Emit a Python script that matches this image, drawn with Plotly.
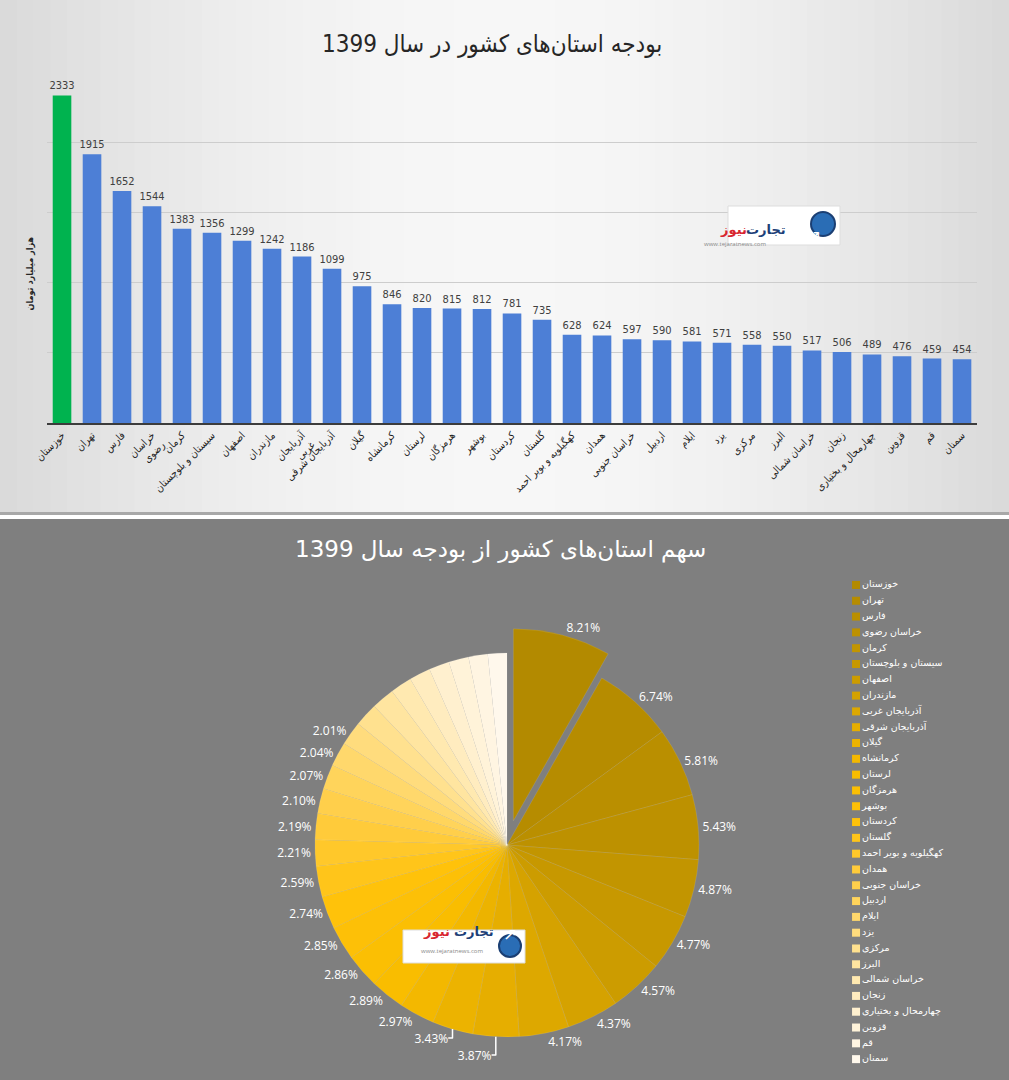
import plotly.graph_objects as go
import numpy as np

# ---------------- data ----------------
provinces = ["خوزستان", "تهران", "فارس", "خراسان رضوی", "کرمان", "سیستان و بلوچستان",
             "اصفهان", "مازندران", "آذربایجان غربی", "آذربایجان شرقی", "گیلان", "کرمانشاه",
             "لرستان", "هرمزگان", "بوشهر", "کردستان", "گلستان", "کهگیلویه و بویر احمد",
             "همدان", "خراسان جنوبی", "اردبیل", "ایلام", "یزد", "مرکزی", "البرز",
             "خراسان شمالی", "زنجان", "چهارمحال و بختیاری", "قزوین", "قم", "سمنان"]
budget = [2333, 1915, 1652, 1544, 1383, 1356, 1299, 1242, 1186, 1099, 975, 846, 820, 815,
          812, 781, 735, 628, 624, 597, 590, 581, 571, 558, 550, 517, 506, 489, 476, 459, 454]
tick_labels = ["خوزستان", "تهران", "فارس", "خراسان<br>رضوی", "کرمان", "سیستان و بلوچستان",
               "اصفهان", "مازندران", "آذربایجان<br>غربی", "آذربایجان شرقی", "گیلان", "کرمانشاه",
               "لرستان", "هرمزگان", "بوشهر", "کردستان", "گلستان", "کهگیلویه و بویر احمد",
               "همدان", "خراسان جنوبی", "اردبیل", "ایلام", "یزد", "مرکزی", "البرز",
               "خراسان شمالی", "زنجان", "چهارمحال و بختیاری", "قزوین", "قم", "سمنان"]
share_labels = ["8.21%", "6.74%", "5.81%", "5.43%", "4.87%", "4.77%", "4.57%", "4.37%",
                "4.17%", "3.87%", "3.43%", "2.97%", "2.89%", "2.86%", "2.85%", "2.74%",
                "2.59%", "2.21%", "2.19%", "2.10%", "2.07%", "2.04%", "2.01%",
                "", "", "", "", "", "", "", ""]

bar_title = "بودجه استان\u200cهای کشور در سال 1399"
pie_title = "سهم استان\u200cهای کشور از بودجه سال 1399"
y_title = "هزار میلیارد تومان"

# ---------------- helpers ----------------
W, H = 1009, 1080
def px(x): return x / W
def py(y): return 1 - y / H

def hex2rgb(h):
    h = h.lstrip('#'); return [int(h[i:i+2], 16) for i in (0, 2, 4)]

stops = [(0.0, '#b38a00'), (0.1, '#bd9100'), (0.2, '#cc9c00'), (0.3, '#e6ae00'),
         (0.4, '#f9bd00'), (0.5, '#ffc20a'), (0.6, '#ffcb3a'), (0.7, '#ffd86c'),
         (0.8, '#ffe5a0'), (0.9, '#fff0cf'), (1.0, '#fff8ec')]
def grad(t):
    for (t0, c0), (t1, c1) in zip(stops[:-1], stops[1:]):
        if t <= t1:
            f = (t - t0) / (t1 - t0) if t1 > t0 else 0
            a, b = hex2rgb(c0), hex2rgb(c1)
            return 'rgb(%d,%d,%d)' % tuple(round(a[k] + (b[k] - a[k]) * f) for k in range(3))
    return stops[-1][1]

n = len(provinces)
pie_colors = [grad(i / (n - 1)) for i in range(n)]
bar_colors = ['#00b34f'] + ['#4d7fd6'] * (n - 1)

fig = go.Figure()

# ---------------- bar chart ----------------
fig.add_trace(go.Bar(
    x=provinces, y=budget, marker_color=bar_colors, marker_line_width=0,
    text=budget, textposition='outside', cliponaxis=False, constraintext='none',
    textfont=dict(size=11, color='#404040', family='DejaVu Sans Condensed'),
    xaxis='x', yaxis='y', showlegend=False, hoverinfo='x+y'))

# ---------------- pie chart ----------------
pull = [0.13] + [0] * (n - 1)
fig.add_trace(go.Pie(
    labels=provinces, values=budget, text=share_labels, textinfo='text',
    textposition='outside', sort=False, direction='clockwise', rotation=0,
    pull=pull, marker=dict(colors=pie_colors, line=dict(color='rgba(255,255,255,0.25)', width=0.4)),
    textfont=dict(size=12, color='white', family='Open Sans'),
    domain=dict(x=[0.2874, 0.7175], y=[0.0167, 0.4185]),
    showlegend=False, automargin=False))

# ---------------- legend built as a category-axis scatter ----------------
fig.add_trace(go.Scatter(
    x=np.zeros(n), y=provinces, mode='markers+text',
    marker=dict(symbol='square', size=8, color=pie_colors),
    text=provinces, textposition='middle right',
    textfont=dict(size=9.5, color='white', family='DejaVu Sans'),
    xaxis='x2', yaxis='y2', showlegend=False, cliponaxis=False, hoverinfo='text'))

# ---------------- background shapes ----------------
shapes = []
nstrip = 60
for i in range(nstrip):
    x0, x1 = i / nstrip, (i + 1) / nstrip
    xc = (x0 + x1) / 2
    v = round(247 - 30 * (abs(xc - 0.5) * 2) ** 1.8)
    shapes.append(dict(type='rect', xref='paper', yref='paper', x0=x0, x1=x1 + 0.001,
                       y0=py(515), y1=1, fillcolor='rgb(%d,%d,%d)' % (v, v, v),
                       line_width=0, layer='below'))
shapes.append(dict(type='rect', xref='paper', yref='paper', x0=0, x1=1, y0=py(516), y1=py(512),
                   fillcolor='#a8a8a8', line_width=0, layer='below'))
shapes.append(dict(type='rect', xref='paper', yref='paper', x0=0, x1=1, y0=py(519), y1=py(515),
                   fillcolor='#ffffff', line_width=0, layer='below'))
shapes.append(dict(type='rect', xref='paper', yref='paper', x0=0, x1=1, y0=0, y1=py(519),
                   fillcolor='#7f7f7f', line_width=0, layer='below'))

def logo(x0, x1, y0, y1, cx, cy, r, tx_blue, tx_red, ty, url_x, url_y, fs):
    sh = [dict(type='rect', xref='paper', yref='paper', x0=px(x0), x1=px(x1), y0=py(y1), y1=py(y0),
               fillcolor='white', line=dict(color='#dddddd', width=1), layer='above'),
          dict(type='circle', xref='paper', yref='paper', x0=px(cx - r), x1=px(cx + r),
               y0=py(cy + r), y1=py(cy - r), fillcolor='#2a6db5', line=dict(color='#1b3f73', width=2),
               layer='above')]
    an = [dict(x=px(tx_blue), y=py(ty), xref='paper', yref='paper', text='<b>تجارت</b>',
               showarrow=False, font=dict(size=fs, color='#1d3f78', family='DejaVu Sans')),
          dict(x=px(tx_red), y=py(ty), xref='paper', yref='paper', text='<b>نیوز</b>',
               showarrow=False, font=dict(size=fs, color='#d8262f', family='DejaVu Sans')),
          dict(x=px(cx), y=py(cy), xref='paper', yref='paper', text='↗',
               showarrow=False, font=dict(size=17, color='white', family='DejaVu Sans')),
          dict(x=px(url_x), y=py(url_y), xref='paper', yref='paper',
               text='www.tejaratnews.com', showarrow=False,
               font=dict(size=6, color='#888888'))]
    return sh, an

sh1, an1 = logo(728, 840, 206, 245, 823, 224, 12, 788, 749, 220, 768, 238, 13)
sh2, an2 = logo(403, 525, 930, 963, 510, 946, 11, 474, 436, 941, 452, 957, 13)
shapes += sh1 + sh2

annotations = [
    dict(x=px(492), y=py(28), xref='paper', yref='paper', text=bar_title, showarrow=False,
         font=dict(size=24, color='#262626', family='DejaVu Sans Condensed')),
    dict(x=px(500), y=py(549), xref='paper', yref='paper', text=pie_title, showarrow=False,
         font=dict(size=23, color='white', family='DejaVu Sans')),
    dict(x=px(22), y=py(235), xref='paper', yref='paper', text='<b>' + y_title + '</b>',
         showarrow=False, textangle=-90,
         font=dict(size=9, color='#262626', family='DejaVu Sans Condensed')),
] + an1 + an2

fig.update_layout(
    width=W, height=H, margin=dict(l=0, r=0, t=0, b=0),
    paper_bgcolor='#7f7f7f', plot_bgcolor='rgba(0,0,0,0)',
    bargap=0.38, showlegend=False,
    xaxis=dict(domain=[0.0466, 0.9683], type='category', tickangle=-45,
               tickmode='array', tickvals=provinces, ticktext=tick_labels,
               tickfont=dict(size=10.5, color='#1e1e1e', family='DejaVu Sans Condensed'),
               showgrid=False, showline=True, linecolor='#3c3c3c', linewidth=2,
               ticks='', anchor='y', fixedrange=True, automargin=False),
    yaxis=dict(domain=[0.6083, 0.9333], range=[0, 2500], dtick=500, showgrid=True,
               gridcolor='#cdcdcd', gridwidth=1, showticklabels=False, zeroline=False,
               showline=False, anchor='x', fixedrange=True, automargin=False),
    xaxis2=dict(domain=[0.8484, 1.0], range=[0, 1], visible=False, anchor='y2',
                automargin=False),
    yaxis2=dict(domain=[0.012, 0.4657], type='category', categoryorder='array',
                categoryarray=provinces, range=[n - 0.5, -0.5], visible=False, anchor='x2',
                automargin=False),
    shapes=shapes, annotations=annotations,
)

fig.write_html("out.html", config={'displayModeBar': False},
               post_script="document.body.style.margin='0';")
